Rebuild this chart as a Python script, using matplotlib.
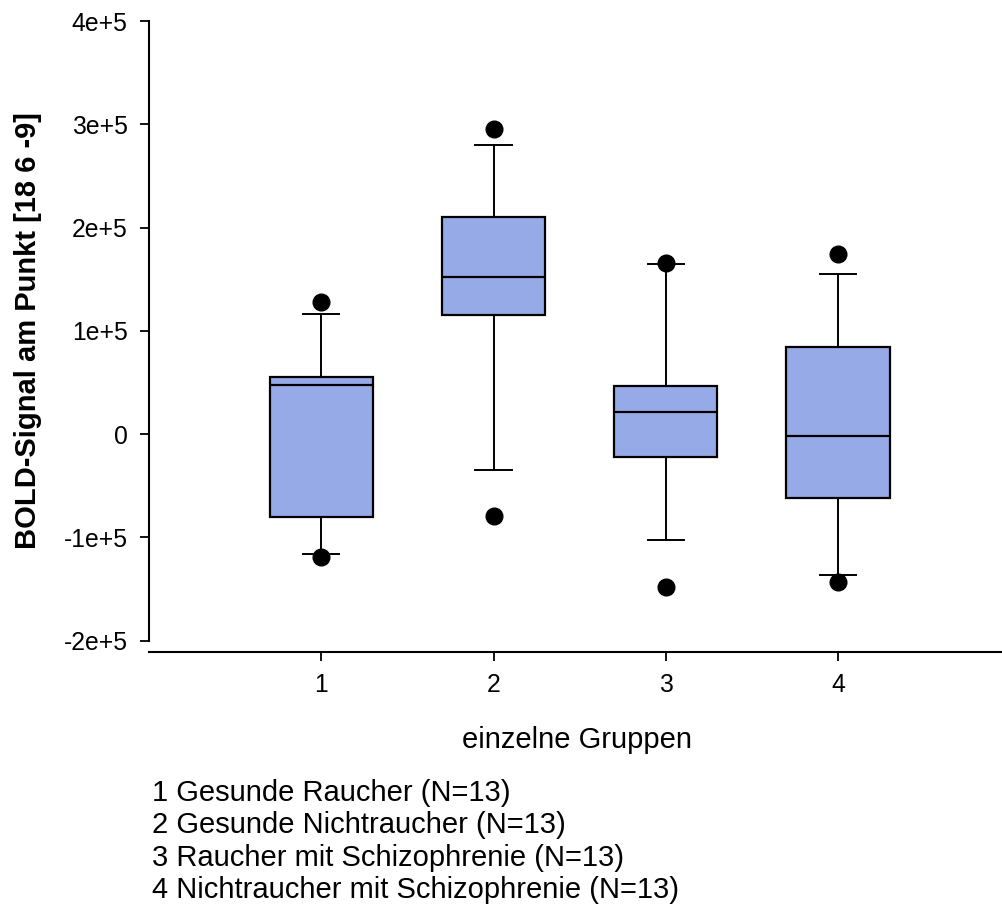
import matplotlib
matplotlib.use("Agg")
import matplotlib.pyplot as plt

# ---- data ----
groups = [1, 2, 3, 4]
q1 = [-80000, 115500, -22400, -62000]
medians = [48000, 152500, 21400, -2100]
q3 = [55000, 210000, 46200, 84500]
whisker_low = [-116500, -34300, -102900, -136400]
whisker_high = [116500, 279500, 165000, 155000]
flier_low = [-119000, -79000, -148000, -142800]
flier_high = [128000, 295000, 166000, 174000]
y_ticks = [-200000, -100000, 0, 100000, 200000, 300000, 400000]
y_ticklabels = ["-2e+5", "-1e+5", "0", "1e+5", "2e+5", "3e+5", "4e+5"]
legend_lines = ["1 Gesunde Raucher (N=13)",
                "2 Gesunde Nichtraucher (N=13)",
                "3 Raucher mit Schizophrenie (N=13)",
                "4 Nichtraucher mit Schizophrenie (N=13)"]

plt.rcParams['font.family'] = ['Liberation Sans', 'DejaVu Sans']

W, H = 1003, 905
fig = plt.figure(figsize=(W / 100, H / 100), dpi=100)
ax_l, ax_r, ax_t, ax_b = 149, 1003, 21, 640.7
ax = fig.add_axes([ax_l / W, 1 - ax_b / H, (ax_r - ax_l) / W, (ax_b - ax_t) / H])

stats = []
for i in range(len(groups)):
    stats.append(dict(med=medians[i], q1=q1[i], q3=q3[i],
                      whislo=whisker_low[i], whishi=whisker_high[i],
                      fliers=[flier_low[i], flier_high[i]]))

ax.bxp(stats, positions=groups, widths=0.6, patch_artist=True,
       boxprops=dict(facecolor="#97AAE8", edgecolor="black", linewidth=1.6),
       medianprops=dict(color="black", linewidth=1.6),
       whiskerprops=dict(color="black", linewidth=1.4),
       capprops=dict(color="black", linewidth=1.4),
       capwidths=0.21,
       flierprops=dict(marker="o", markerfacecolor="black", markeredgecolor="black",
                       markersize=12, linestyle="none"))

ax.set_xlim(0, (ax_r - 148.7) / 172.33)
ax.set_ylim(-200000, 400000)
ax.set_yticks(y_ticks)
ax.set_yticklabels(y_ticklabels)
ax.set_xticks(groups)
ax.set_xticklabels([str(g) for g in groups])

for s in ["top", "right"]:
    ax.spines[s].set_visible(False)
ax.spines["left"].set_linewidth(1.5)
ax.spines["bottom"].set_linewidth(1.5)
ax.spines["bottom"].set_position(("outward", 8.1))
ax.spines["left"].set_bounds(-200000, 400000)

ax.tick_params(axis="both", direction="out", length=6.5, width=1.3,
               labelsize=17.8, colors="black")
ax.tick_params(axis="y", pad=9)
ax.tick_params(axis="x", pad=9)

ax.set_ylabel("BOLD-Signal am Punkt [18 6 -9]", fontsize=21, fontweight="bold")
ax.yaxis.set_label_coords(-(149 - 28) / (ax_r - ax_l), 0.5)
ax.yaxis.label.set_va("center")

ax.set_xlabel("einzelne Gruppen", fontsize=21)
ax.xaxis.label.set_va("baseline")
ax.xaxis.set_label_coords((577 - ax_l) / (ax_r - ax_l), -(748 - ax_b) / (ax_b - ax_t))

for k, line in enumerate(legend_lines):
    fig.text(152 / W, 1 - (801 + 32.3 * k) / H, line, fontsize=21,
             ha="left", va="baseline")

fig.savefig("out.png", dpi=100)
